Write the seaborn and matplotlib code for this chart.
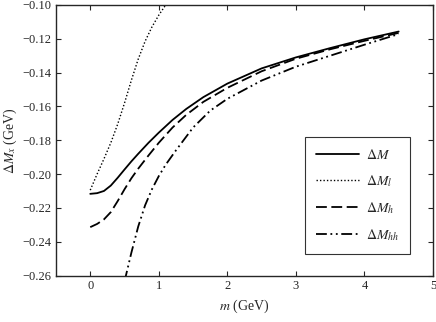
import numpy as np
import pandas as pd
import matplotlib
matplotlib.use("Agg")
import matplotlib.pyplot as plt
import seaborn as sns

# values
m_full = [0.0, 0.1, 0.2, 0.3, 0.4, 0.5, 0.6, 0.7, 0.85, 1.0, 1.2, 1.4, 1.65,
          2.0, 2.5, 3.0, 3.5, 4.0, 4.5]
dM = [-0.2117, -0.2113, -0.2100, -0.2068, -0.2022, -0.1973, -0.1925, -0.1880,
      -0.1815, -0.1755, -0.1680, -0.1615, -0.1545, -0.1465, -0.1375, -0.1310,
      -0.1255, -0.1203, -0.1157]
dM_h = [-0.2314, -0.2295, -0.2268, -0.2225, -0.2160, -0.2090, -0.2025, -0.1968,
        -0.1890, -0.1815, -0.1725, -0.1650, -0.1573, -0.1490, -0.1392, -0.1318,
        -0.1262, -0.1212, -0.1165]

m_l = [0.0, 0.1, 0.2, 0.3, 0.4, 0.5, 0.6, 0.7, 0.8, 0.9, 1.0, 1.1, 1.2]
dM_l = [-0.2095, -0.2000, -0.1910, -0.1815, -0.1705, -0.1580, -0.1445, -0.1320,
        -0.1215, -0.1130, -0.1060, -0.1000, -0.0950]

m_hh = [0.5, 0.6, 0.7, 0.8, 0.9, 1.0, 1.1, 1.25, 1.5, 1.75, 2.0, 2.5, 3.0, 3.5,
        4.0, 4.5]
dM_hh = [-0.2635, -0.2465, -0.2310, -0.2185, -0.2090, -0.2012, -0.1945, -0.1860,
         -0.1725, -0.1625, -0.1555, -0.1447, -0.1365, -0.1300, -0.1235, -0.1172]

sns.set_style("ticks")
plt.rcParams['font.family'] = ['Liberation Serif', 'DejaVu Serif']
plt.rcParams['mathtext.fontset'] = 'stix'

fig = plt.figure(figsize=(4.36, 3.22), dpi=100)
ax = fig.add_axes([0.1284, 0.1444, 0.8646, 0.8401])

series = [
    (m_full, dM, r'$\Delta M$', (None, None)),
    (m_l, dM_l, r'$\Delta M_l$', (1, 1.5)),
    (m_full, dM_h, r'$\Delta M_h$', (6, 2.5)),
    (m_hh, dM_hh, r'$\Delta M_{hh}$', (6, 2, 1, 2, 1, 2)),
]
for xs, ys, lab, dash in series:
    df = pd.DataFrame({'m': xs, 'dM': ys})
    sns.lineplot(data=df, x='m', y='dM', ax=ax, color='black',
                 linewidth=1.3, label=lab)
    l = ax.get_lines()[-1]
    if dash[0] is not None:
        l.set_dashes(dash)
    if lab == r'$\Delta M_l$':
        l.set_linewidth(1.0)

ax.set_xlim(-0.5, 5)
ax.set_ylim(-0.26, -0.10)
yt = np.arange(-0.26, -0.099, 0.02)
ax.set_xticks([0, 1, 2, 3, 4, 5])
ax.set_yticks(yt)
ax.set_yticklabels([f"{v:.2f}".replace('-', '\u2212') for v in yt])
ax.tick_params(direction='in', top=True, right=True, labelsize=9, length=3.5, width=0.8)
for s in ax.spines.values():
    s.set_linewidth(1.0)

ax.set_xlabel(r'$m$ (GeV)', fontsize=10)
ax.set_ylabel(r'$\Delta M_x$ (GeV)', fontsize=10, labelpad=2)

leg = ax.legend(loc='lower right', bbox_to_anchor=(0.939, 0.08), fontsize=10,
                handlelength=3.1, handletextpad=0.5, labelspacing=0.8,
                borderpad=0.8, borderaxespad=0.0,
                frameon=True, fancybox=False, edgecolor='black')
leg.get_frame().set_linewidth(0.8)

fig.savefig("out.png", dpi=100)
